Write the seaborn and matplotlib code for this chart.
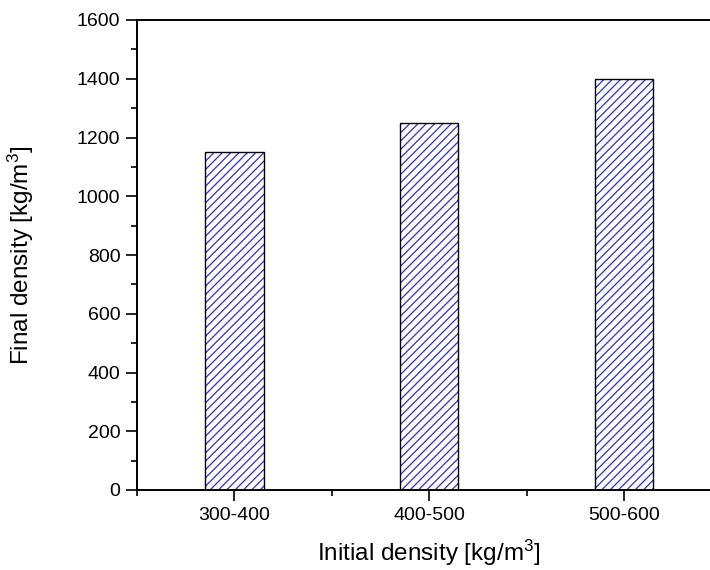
import matplotlib
matplotlib.use("Agg")
import matplotlib.pyplot as plt
import seaborn as sns
import pandas as pd
from matplotlib.ticker import MultipleLocator

categories = ["300-400", "400-500", "500-600"]
final_density = [1150, 1250, 1400]

xlabel = "Initial density [kg/m$^3$]"
ylabel = "Final density [kg/m$^3$]"

sns.set_theme(style="ticks")
plt.rcParams["font.family"] = ["Liberation Sans", "DejaVu Sans"]
plt.rcParams["mathtext.fontset"] = "custom"
plt.rcParams["mathtext.rm"] = "Liberation Sans"
plt.rcParams["mathtext.it"] = "Liberation Sans"
plt.rcParams["hatch.linewidth"] = 0.9

df = pd.DataFrame({"cat": categories, "val": final_density})

fig = plt.figure(figsize=(7.1, 5.7), dpi=100)
ax = fig.add_axes([137 / 710, 80 / 570, 584.5 / 710, 470 / 570])

hatch_blue = "#3030c0"
sns.barplot(data=df, x="cat", y="val", ax=ax, color="white", width=0.3,
            edgecolor=hatch_blue, linewidth=0, hatch="////", saturation=1)
sns.barplot(data=df, x="cat", y="val", ax=ax, fill=False, width=0.3,
            edgecolor="black", linewidth=1.0)

ax.set_xlim(-0.5, 2.5)
ax.set_ylim(0, 1600)
ax.yaxis.set_major_locator(MultipleLocator(200))
ax.yaxis.set_minor_locator(MultipleLocator(100))
ax.xaxis.set_minor_locator(MultipleLocator(1, offset=0.5))

for s in ["left", "bottom", "top", "right"]:
    ax.spines[s].set_visible(True)
    ax.spines[s].set_linewidth(1.4)
    ax.spines[s].set_color("black")

ax.tick_params(axis="both", which="major", direction="out", length=8, width=1.2,
               labelsize=14, color="black", labelcolor="black", pad=4)
ax.tick_params(axis="both", which="minor", direction="out", length=4.5, width=1.2,
               color="black")
ax.tick_params(axis="x", which="both", top=False)
ax.tick_params(axis="y", which="both", right=False)

ax.set_xlabel(xlabel, fontsize=17.5, labelpad=10, color="black")
ax.set_ylabel(ylabel, fontsize=17.5, labelpad=29, color="black")

fig.savefig("out.png", dpi=100)
